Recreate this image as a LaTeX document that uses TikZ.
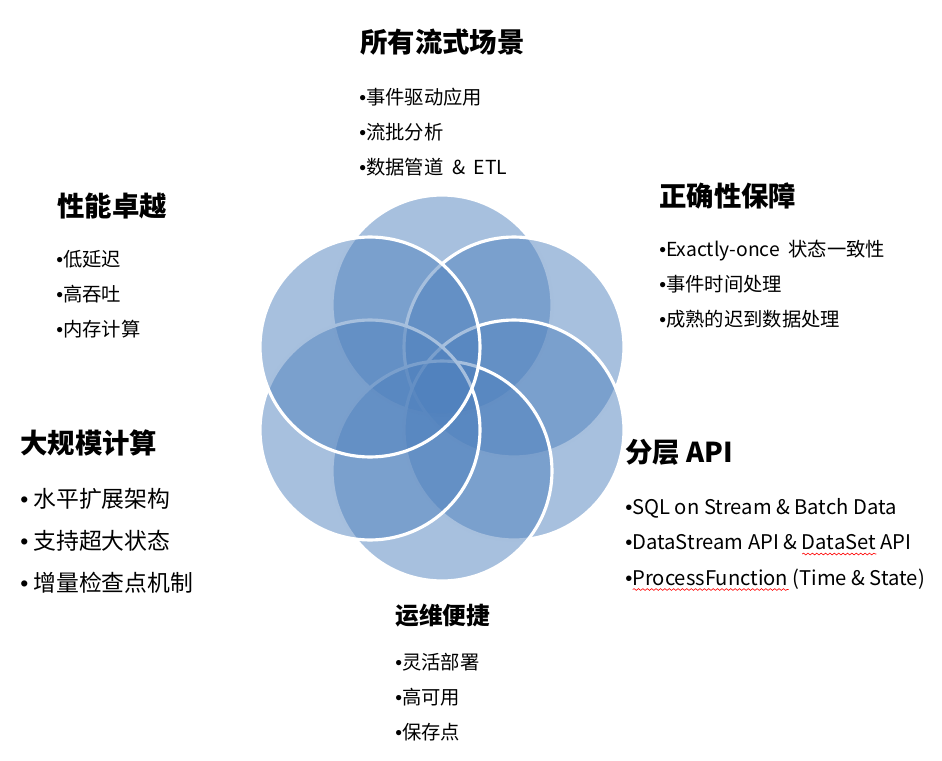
\documentclass[tikz,border=0pt]{standalone}
\usepackage{fontspec}
\setmainfont{Noto Sans CJK SC}
\newfontfamily\bulletfont{Liberation Sans}
\usepackage{xcolor}
\usetikzlibrary{positioning,decorations.pathmorphing}

\definecolor{petalblue}{HTML}{4F81BD}
\newcommand{\bul}{{\bulletfont •}}
\newsavebox{\wordbox}
\newlength{\wordwd}
\newcommand{\spellwave}[1]{\sbox{\wordbox}{#1}\setlength{\wordwd}{\wd\wordbox}%
  \rlap{\raisebox{-3pt}{\tikz\draw[red, line width=0.35pt, decorate,
    decoration={snake, amplitude=0.5pt, segment length=2.5pt}] (0,0) -- (\wordwd,0);}}%
  \usebox{\wordbox}}

\begin{document}
\begin{tikzpicture}[
    x=0.02cm, y=-0.02cm,
    petal/.style={fill=petalblue, fill opacity=0.5, draw=white, line width=1.8pt},
    head/.style={anchor=west, inner sep=0pt, font=\fontsize{15.6}{18}\selectfont\bfseries},
    items/.style={anchor=north west, inner sep=0pt, align=left, font=\fontsize{11}{19.9}\selectfont}
]
\useasboundingbox (0,0) rectangle (942,760);

% Petals
\foreach \cx/\cy in {442/305, 514/347, 514/430, 442/471, 370/430, 370/347}
    \draw[petal] (\cx,\cy) circle[radius=2.2cm];

% Top
\node[head] (scenes) at (360,42) {所有流式场景};
\node[items] (scenelist) at (359,88) {\bul{}事件驱动应用\\ \bul{}流批分析\\ \bul{}数据管道\hspace{0.45em}\&\hspace{0.45em}ETL};

% Upper right
\node[head] (correct) at (659,196) {正确性保障};
\node[items] (correctlist) at (659,240) {\bul{}Exactly-once\ \ 状态一致性\\ \bul{}事件时间处理\\ \bul{}成熟的迟到数据处理};

% Upper left
\node[head] (perf) at (57,206) {性能卓越};
\node[items] (perflist) at (56,250) {\bul{}低延迟\\ \bul{}高吞吐\\ \bul{}内存计算};

% Lower left
\node[head] (scale) at (20,443) {大规模计算};
\node[items, font=\fontsize{13}{23.9}\selectfont] (scalelist) at (20,488)
    {\bul{} 水平扩展架构\\ \bul{} 支持超大状态\\ \bul{} 增量检查点机制};

% Lower right
\node[head] (api) at (625,452) {分层 API};
\node[items, font=\fontsize{11.5}{20.2}\selectfont] (apilist) at (625,498)
    {\bul{}SQL on Stream \& Batch Data\\
     \bul{}DataStream API \& \spellwave{DataSet} API\\
     \bul{}\spellwave{ProcessFunction} (Time \& State)};

% Bottom
\node[head, font=\fontsize{13.5}{16}\selectfont\bfseries] (ops) at (395,616) {运维便捷};
\node[items] (opslist) at (395,653) {\bul{}灵活部署\\ \bul{}高可用\\ \bul{}保存点};

\end{tikzpicture}
\end{document}
